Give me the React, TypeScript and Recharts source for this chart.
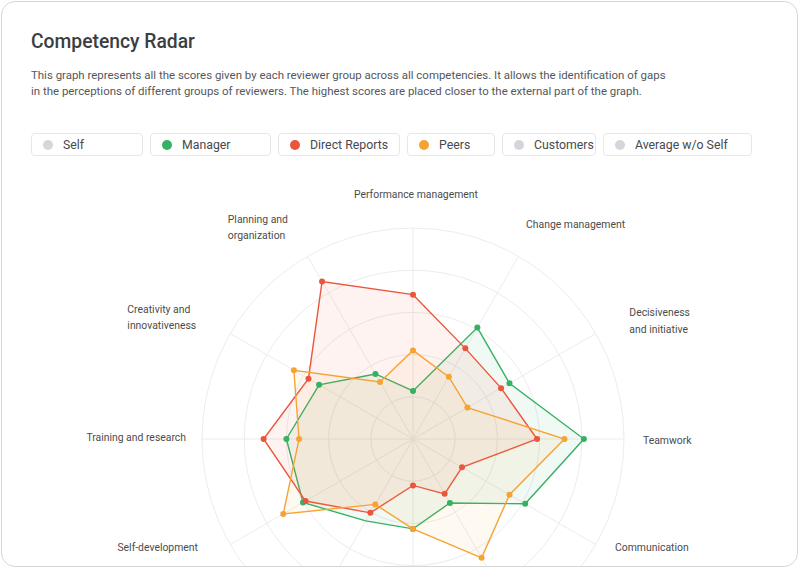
import React from 'react';
import {
  RadarChart,
  Radar,
  PolarGrid,
  PolarAngleAxis,
  PolarRadiusAxis,
} from 'recharts';

// competencies, clockwise from the top
const competencies = [
  'Performance management',
  'Change management',
  'Decisiveness and initiative',
  'Teamwork',
  'Communication',
  'Leadership',
  'Accountability',
  'Problem solving',
  'Self-development',
  'Training and research',
  'Creativity and innovativeness',
  'Planning and organization',
];

const managerScores = [1.14, 3.05, 2.64, 4.05, 3.07, 1.75, 2.13, 2.24, 3.01, 3.0, 2.57, 1.78];
const directReportsScores = [3.42, 2.48, 2.41, 2.94, 1.34, 1.5, 1.1, 2.02, 2.94, 3.54, 2.86, 4.31];
const peersScores = [2.1, 1.7, 1.49, 3.59, 2.64, 3.25, 2.13, 1.79, 3.55, 2.7, 3.26, 1.56];

const reviewerGroups = ['Self', 'Manager', 'Direct Reports', 'Peers', 'Customers', 'Average w/o Self'];
const scoreTicks = [0, 1, 2, 3, 4, 5];

const data = competencies.map((name, i) => ({
  name,
  manager: managerScores[i],
  directReports: directReportsScores[i],
  peers: peersScores[i],
}));

const GREEN = '#35b163';
const RED = '#ec553d';
const ORANGE = '#f7a333';
const GREY = '#d3d6db';

const legendColors: Record<string, string> = {
  Self: GREY,
  Manager: GREEN,
  'Direct Reports': RED,
  Peers: ORANGE,
  Customers: GREY,
  'Average w/o Self': GREY,
};
const legendWidths = [112, 121, 122, 88, 94, 149];

const CX = 411;
const CY = 437;
const OUTER = 211;
const CARD_H = 564;

const labelLines: Record<string, string[]> = {
  'Decisiveness and initiative': ['Decisiveness', 'and initiative'],
  'Creativity and innovativeness': ['Creativity and', 'innovativeness'],
  'Planning and organization': ['Planning and', 'organization'],
};

// label placement relative to the end of each spoke
const labelLayout: Record<string, { anchor: 'start' | 'middle' | 'end'; dx: number; dy: number }> = {
  'Performance management': { anchor: 'middle', dx: 3, dy: -34 },
  'Change management': { anchor: 'start', dx: 7.5, dy: -32.6 },
  'Decisiveness and initiative': { anchor: 'start', dx: 33.6, dy: -21.1 },
  Teamwork: { anchor: 'start', dx: 19, dy: 1 },
  Communication: { anchor: 'start', dx: 19.3, dy: 2.5 },
  'Self-development': { anchor: 'end', dx: -32.3, dy: 2.5 },
  'Training and research': { anchor: 'end', dx: -16, dy: -1.7 },
  'Creativity and innovativeness': { anchor: 'start', dx: -102.9, dy: -24.5 },
  'Planning and organization': { anchor: 'start', dx: -79.7, dy: -37.3 },
};

function AxisLabel(props: any) {
  const { payload } = props;
  const name: string = payload.value;
  const rad = (payload.coordinate * Math.PI) / 180;
  const ax = CX + OUTER * Math.cos(rad);
  const ay = CY - OUTER * Math.sin(rad);
  const layout = labelLayout[name];
  // labels of the lower spokes fall below the card and are clipped away
  if (!layout || ay + layout.dy > CARD_H - 8) return <g />;
  const lines = labelLines[name] || [name];
  return (
    <text
      x={ax + layout.dx}
      y={ay + layout.dy}
      textAnchor={layout.anchor}
      fill="#4b4b4b"
      fontSize={10.4}
      fontFamily="Roboto, sans-serif"
    >
      {lines.map((line, i) => (
        <tspan key={i} x={ax + layout.dx} dy={i === 0 ? 4 : 16.4}>
          {line}
        </tspan>
      ))}
    </text>
  );
}

// the manager series shows no marker on "Problem solving"
function managerDot(p: any) {
  if (p.index === 7) return <g key={`md-${p.index}`} />;
  return <circle key={`md-${p.index}`} cx={p.cx} cy={p.cy} r={3} fill={GREEN} />;
}

export default function App() {
  return (
    <div
      style={{
        position: 'absolute',
        left: 1,
        top: 1,
        width: 795,
        height: CARD_H,
        border: '1px solid #d6d6d6',
        borderRadius: 14,
        overflow: 'hidden',
        background: '#fff',
        fontFamily: 'Roboto, sans-serif',
      }}
    >
      <div
        style={{
          position: 'absolute',
          left: 29,
          top: 28,
          fontSize: 19.3,
          lineHeight: '24px',
          fontWeight: 500,
          color: '#3b3e42',
        }}
      >
        Competency Radar
      </div>
      <div
        style={{
          position: 'absolute',
          left: 29,
          top: 65,
          fontSize: 11.45,
          lineHeight: '16px',
          color: '#55585c',
          whiteSpace: 'nowrap',
        }}
      >
        This graph represents all the scores given by each reviewer group across all competencies. It allows the identification of gaps
        <br />
        in the perceptions of different groups of reviewers. The highest scores are placed closer to the external part of the graph.
      </div>
      <div style={{ position: 'absolute', left: 29, top: 131, display: 'flex', gap: 7 }}>
        {reviewerGroups.map((g, i) => (
          <div
            key={g}
            style={{
              width: legendWidths[i],
              height: 23,
              boxSizing: 'border-box',
              border: '1px solid #e6e7e9',
              borderRadius: 4,
              display: 'flex',
              alignItems: 'center',
              paddingLeft: 11,
              fontSize: 12.3,
              color: '#46494d',
              whiteSpace: 'nowrap',
            }}
          >
            <span
              style={{
                width: 10,
                height: 10,
                borderRadius: '50%',
                background: legendColors[g],
                marginRight: 10,
                flex: 'none',
              }}
            />
            {g}
          </div>
        ))}
      </div>
      <div style={{ position: 'absolute', left: 0, top: 0 }}>
        <RadarChart
          width={795}
          height={CARD_H}
          data={data}
          cx={CX}
          cy={CY}
          outerRadius={OUTER}
          margin={{ top: 0, right: 0, bottom: 0, left: 0 }}
        >
          <PolarGrid gridType="circle" stroke="#ececec" strokeWidth={1} />
          <PolarAngleAxis
            dataKey="name"
            tick={(p: any) => <AxisLabel {...p} />}
            tickLine={false}
            axisLine={false}
          />
          <PolarRadiusAxis
            angle={90}
            domain={[0, 5]}
            ticks={scoreTicks as any}
            tick={false}
            axisLine={false}
          />
          <Radar
            name="Manager"
            dataKey="manager"
            stroke={GREEN}
            strokeWidth={1.4}
            fill={GREEN}
            fillOpacity={0.07}
            dot={managerDot}
            isAnimationActive={false}
          />
          <Radar
            name="Direct Reports"
            dataKey="directReports"
            stroke={RED}
            strokeWidth={1.4}
            fill={RED}
            fillOpacity={0.07}
            dot={{ r: 3, fill: RED, fillOpacity: 1, strokeWidth: 0 }}
            isAnimationActive={false}
          />
          <Radar
            name="Peers"
            dataKey="peers"
            stroke={ORANGE}
            strokeWidth={1.4}
            fill={ORANGE}
            fillOpacity={0.07}
            dot={{ r: 3, fill: ORANGE, fillOpacity: 1, strokeWidth: 0 }}
            isAnimationActive={false}
          />
        </RadarChart>
      </div>
    </div>
  );
}
